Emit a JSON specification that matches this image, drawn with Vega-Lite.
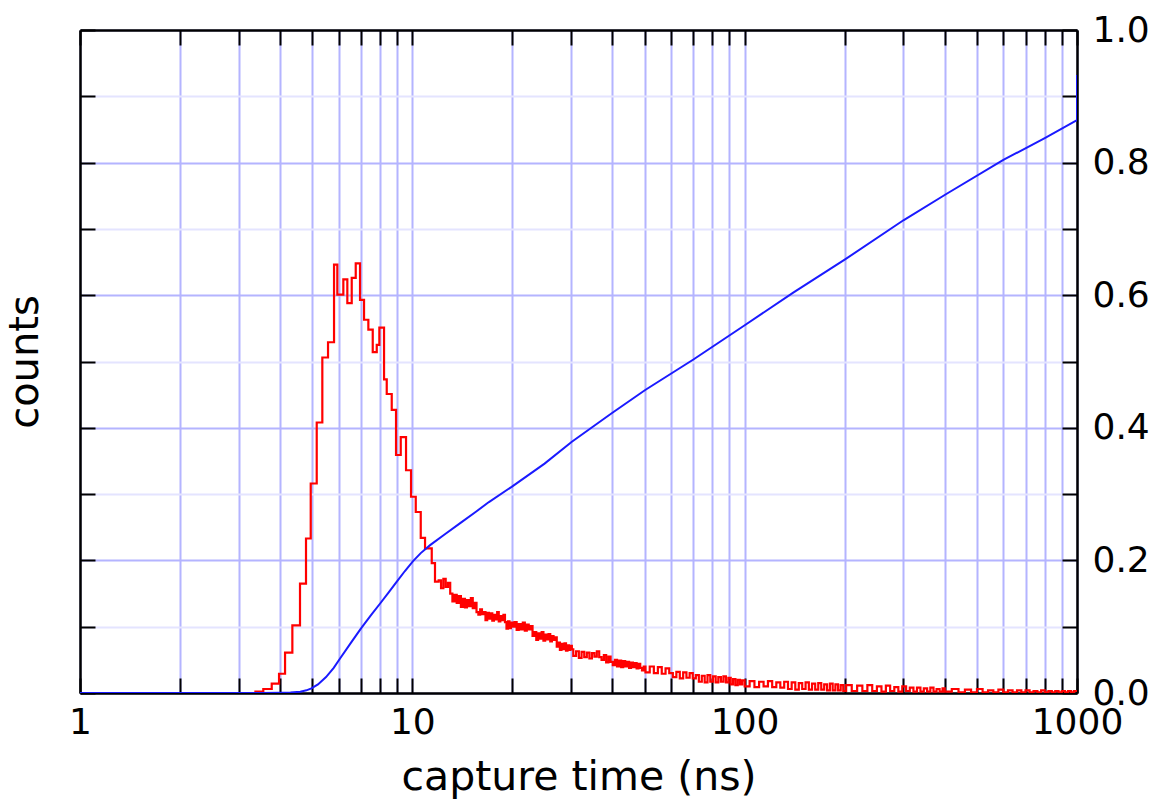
{
  "$schema": "https://vega.github.io/schema/vega-lite/v6.json",
  "width": 997,
  "height": 663,
  "autosize": {"type": "none"},
  "padding": {"left": 80, "top": 30, "right": 86, "bottom": 111},
  "config": {
    "view": {"stroke": null},
    "font": "DejaVu Sans",
    "axis": {"labelColor": "black", "titleColor": "black", "titleFontWeight": "normal", "labelFont": "DejaVu Sans", "titleFont": "DejaVu Sans"}
  },
  "datasets": {
    "red": [
      {"t": 3.346, "v": 0.002}, {"t": 3.561, "v": 0.006}, {"t": 3.775, "v": 0.014}, {"t": 3.971, "v": 0.029},
      {"t": 4.14, "v": 0.061}, {"t": 4.355, "v": 0.102}, {"t": 4.592, "v": 0.165}, {"t": 4.787, "v": 0.233},
      {"t": 4.946, "v": 0.316}, {"t": 5.156, "v": 0.408}, {"t": 5.36, "v": 0.506}, {"t": 5.576, "v": 0.529},
      {"t": 5.813, "v": 0.646}, {"t": 5.947, "v": 0.601}, {"t": 6.2, "v": 0.624}, {"t": 6.374, "v": 0.588},
      {"t": 6.571, "v": 0.626}, {"t": 6.756, "v": 0.648}, {"t": 6.96, "v": 0.593}, {"t": 7.156, "v": 0.563},
      {"t": 7.373, "v": 0.548}, {"t": 7.601, "v": 0.514}, {"t": 7.815, "v": 0.525}, {"t": 7.957, "v": 0.551},
      {"t": 8.22, "v": 0.473}, {"t": 8.375, "v": 0.451}, {"t": 8.67, "v": 0.427}, {"t": 8.932, "v": 0.359},
      {"t": 9.228, "v": 0.386}, {"t": 9.573, "v": 0.336}, {"t": 9.91, "v": 0.296}, {"t": 10.24, "v": 0.273},
      {"t": 10.6, "v": 0.234}, {"t": 10.92, "v": 0.218}, {"t": 11.44, "v": 0.196}, {"t": 11.7, "v": 0.168},
      {"t": 12.0, "v": 0.170}, {"t": 12.2, "v": 0.158}, {"t": 12.4, "v": 0.172}, {"t": 12.6, "v": 0.160},
      {"t": 12.8, "v": 0.166}, {"t": 13.0, "v": 0.150}, {"t": 13.2, "v": 0.138}, {"t": 13.4, "v": 0.148},
      {"t": 13.6, "v": 0.136}, {"t": 13.8, "v": 0.146}, {"t": 14.0, "v": 0.130}, {"t": 14.2, "v": 0.142},
      {"t": 14.4, "v": 0.129}, {"t": 14.6, "v": 0.140}, {"t": 14.8, "v": 0.131}, {"t": 15.0, "v": 0.143},
      {"t": 15.2, "v": 0.128}, {"t": 15.4, "v": 0.136}, {"t": 15.6, "v": 0.122}, {"t": 15.8, "v": 0.118},
      {"t": 16.0, "v": 0.126}, {"t": 16.2, "v": 0.119}, {"t": 16.4, "v": 0.122}, {"t": 16.6, "v": 0.110},
      {"t": 16.8, "v": 0.121}, {"t": 17.0, "v": 0.112}, {"t": 17.2, "v": 0.120}, {"t": 17.4, "v": 0.109},
      {"t": 17.6, "v": 0.118}, {"t": 17.8, "v": 0.111}, {"t": 18.0, "v": 0.122}, {"t": 18.2, "v": 0.108},
      {"t": 18.4, "v": 0.116}, {"t": 18.6, "v": 0.110}, {"t": 18.8, "v": 0.118}, {"t": 19.0, "v": 0.107},
      {"t": 19.2, "v": 0.097}, {"t": 19.4, "v": 0.108}, {"t": 19.6, "v": 0.098}, {"t": 19.8, "v": 0.106},
      {"t": 20.0, "v": 0.100}, {"t": 20.3, "v": 0.107}, {"t": 20.6, "v": 0.095}, {"t": 20.9, "v": 0.104},
      {"t": 21.2, "v": 0.096}, {"t": 21.5, "v": 0.106}, {"t": 21.8, "v": 0.094}, {"t": 22.1, "v": 0.103},
      {"t": 22.4, "v": 0.096}, {"t": 22.7, "v": 0.101}, {"t": 23.0, "v": 0.086}, {"t": 23.3, "v": 0.092},
      {"t": 23.6, "v": 0.080}, {"t": 23.9, "v": 0.090}, {"t": 24.2, "v": 0.082}, {"t": 24.5, "v": 0.092},
      {"t": 24.8, "v": 0.079}, {"t": 25.1, "v": 0.088}, {"t": 25.4, "v": 0.081}, {"t": 25.7, "v": 0.089},
      {"t": 26.0, "v": 0.078}, {"t": 26.3, "v": 0.086}, {"t": 26.6, "v": 0.080}, {"t": 26.9, "v": 0.084},
      {"t": 27.2, "v": 0.070}, {"t": 27.5, "v": 0.076}, {"t": 27.8, "v": 0.065}, {"t": 28.1, "v": 0.074},
      {"t": 28.4, "v": 0.066}, {"t": 28.7, "v": 0.075}, {"t": 29.0, "v": 0.064}, {"t": 29.3, "v": 0.072},
      {"t": 29.6, "v": 0.065}, {"t": 29.9, "v": 0.071}, {"t": 30.2, "v": 0.066},
      {"t": 30.5, "v": 0.056}, {"t": 31.1, "v": 0.063}, {"t": 31.7, "v": 0.053}, {"t": 32.3, "v": 0.062},
      {"t": 32.9, "v": 0.054}, {"t": 33.5, "v": 0.061}, {"t": 34.1, "v": 0.052}, {"t": 34.7, "v": 0.060},
      {"t": 35.3, "v": 0.055}, {"t": 35.9, "v": 0.063}, {"t": 36.5, "v": 0.054}, {"t": 37.1, "v": 0.050},
      {"t": 37.7, "v": 0.057}, {"t": 38.3, "v": 0.046}, {"t": 38.9, "v": 0.055}, {"t": 39.5, "v": 0.047},
      {"t": 40.1, "v": 0.042}, {"t": 40.7, "v": 0.050}, {"t": 41.3, "v": 0.040}, {"t": 41.9, "v": 0.049},
      {"t": 42.5, "v": 0.039}, {"t": 43.1, "v": 0.048}, {"t": 43.7, "v": 0.040}, {"t": 44.3, "v": 0.047},
      {"t": 44.9, "v": 0.038}, {"t": 45.5, "v": 0.046}, {"t": 46.1, "v": 0.039}, {"t": 46.7, "v": 0.045},
      {"t": 47.3, "v": 0.037}, {"t": 47.9, "v": 0.044}, {"t": 48.5, "v": 0.038}, {"t": 49.1, "v": 0.034},
      {"t": 49.7, "v": 0.040},
      {"t": 50.3, "v": 0.031}, {"t": 51.8, "v": 0.040}, {"t": 53.3, "v": 0.030}, {"t": 54.8, "v": 0.039},
      {"t": 56.3, "v": 0.029}, {"t": 57.8, "v": 0.037}, {"t": 59.3, "v": 0.030}, {"t": 60.8, "v": 0.024},
      {"t": 62.3, "v": 0.032}, {"t": 63.8, "v": 0.022}, {"t": 65.3, "v": 0.031}, {"t": 66.8, "v": 0.023},
      {"t": 68.3, "v": 0.030}, {"t": 69.8, "v": 0.022}, {"t": 71.3, "v": 0.027}, {"t": 72.8, "v": 0.017},
      {"t": 74.3, "v": 0.026}, {"t": 75.8, "v": 0.016}, {"t": 77.3, "v": 0.027}, {"t": 78.8, "v": 0.017},
      {"t": 80.3, "v": 0.025}, {"t": 81.8, "v": 0.016}, {"t": 83.3, "v": 0.024}, {"t": 84.8, "v": 0.017},
      {"t": 86.3, "v": 0.025}, {"t": 87.8, "v": 0.016}, {"t": 89.3, "v": 0.023}, {"t": 90.8, "v": 0.013},
      {"t": 92.3, "v": 0.021}, {"t": 93.8, "v": 0.012}, {"t": 95.3, "v": 0.020}, {"t": 96.8, "v": 0.013},
      {"t": 98.3, "v": 0.019},
      {"t": 100, "v": 0.010}, {"t": 103.5, "v": 0.018}, {"t": 107, "v": 0.009}, {"t": 110.5, "v": 0.017},
      {"t": 114, "v": 0.010}, {"t": 117.5, "v": 0.018}, {"t": 121, "v": 0.009}, {"t": 124.5, "v": 0.016},
      {"t": 128, "v": 0.008}, {"t": 131.5, "v": 0.017}, {"t": 135, "v": 0.006}, {"t": 138.5, "v": 0.016},
      {"t": 142, "v": 0.005}, {"t": 145.5, "v": 0.015}, {"t": 149, "v": 0.006}, {"t": 152.5, "v": 0.016},
      {"t": 156, "v": 0.005}, {"t": 159.5, "v": 0.014}, {"t": 163, "v": 0.005}, {"t": 166.5, "v": 0.015},
      {"t": 170, "v": 0.005}, {"t": 173.5, "v": 0.013}, {"t": 177, "v": 0.004}, {"t": 180.5, "v": 0.014},
      {"t": 184, "v": 0.004}, {"t": 187.5, "v": 0.013}, {"t": 191, "v": 0.004}, {"t": 194.5, "v": 0.012},
      {"t": 198, "v": 0.003},
      {"t": 202, "v": 0.012}, {"t": 210, "v": 0.003}, {"t": 218, "v": 0.011}, {"t": 226, "v": 0.003},
      {"t": 234, "v": 0.012}, {"t": 242, "v": 0.003}, {"t": 250, "v": 0.010}, {"t": 258, "v": 0.002},
      {"t": 266, "v": 0.011}, {"t": 274, "v": 0.003}, {"t": 282, "v": 0.009}, {"t": 290, "v": 0.002},
      {"t": 298, "v": 0.010}, {"t": 306, "v": 0.003}, {"t": 314, "v": 0.008}, {"t": 322, "v": 0.002},
      {"t": 330, "v": 0.008}, {"t": 338, "v": 0.002}, {"t": 346, "v": 0.007}, {"t": 354, "v": 0.002},
      {"t": 362, "v": 0.008}, {"t": 370, "v": 0.002}, {"t": 378, "v": 0.006}, {"t": 386, "v": 0.002},
      {"t": 394, "v": 0.007},
      {"t": 400, "v": 0.002}, {"t": 420, "v": 0.006}, {"t": 440, "v": 0.001}, {"t": 460, "v": 0.005},
      {"t": 480, "v": 0.001}, {"t": 500, "v": 0.006}, {"t": 520, "v": 0.001}, {"t": 540, "v": 0.004},
      {"t": 560, "v": 0.001}, {"t": 580, "v": 0.005}, {"t": 600, "v": 0.001}, {"t": 620, "v": 0.004},
      {"t": 640, "v": 0.001}, {"t": 660, "v": 0.004}, {"t": 680, "v": 0.001}, {"t": 700, "v": 0.004},
      {"t": 720, "v": 0.001}, {"t": 740, "v": 0.003}, {"t": 760, "v": 0.001}, {"t": 780, "v": 0.004},
      {"t": 800, "v": 0.001}, {"t": 820, "v": 0.003}, {"t": 840, "v": 0.001}, {"t": 860, "v": 0.003},
      {"t": 880, "v": 0.001}, {"t": 900, "v": 0.003}, {"t": 920, "v": 0.001}, {"t": 940, "v": 0.003},
      {"t": 960, "v": 0.001}, {"t": 980, "v": 0.003}, {"t": 1000, "v": 0.002}
    ],
    "blue": [
      {"t": 1, "v": 0, "o": 1}, {"t": 3.5, "v": 0, "o": 2}, {"t": 4.0, "v": 0.0002, "o": 3},
      {"t": 4.3, "v": 0.0006, "o": 4}, {"t": 4.6, "v": 0.002, "o": 5}, {"t": 4.8, "v": 0.004, "o": 6},
      {"t": 4.97, "v": 0.007, "o": 7}, {"t": 5.2, "v": 0.013, "o": 8}, {"t": 5.5, "v": 0.024, "o": 9},
      {"t": 5.8, "v": 0.038, "o": 10}, {"t": 6.06, "v": 0.052, "o": 11}, {"t": 6.5, "v": 0.074, "o": 12},
      {"t": 7.0, "v": 0.097, "o": 13}, {"t": 7.5, "v": 0.117, "o": 14}, {"t": 8.0, "v": 0.135, "o": 15},
      {"t": 8.5, "v": 0.152, "o": 16}, {"t": 8.98, "v": 0.168, "o": 17}, {"t": 9.5, "v": 0.184, "o": 18},
      {"t": 10.05, "v": 0.199, "o": 19}, {"t": 10.6, "v": 0.211, "o": 20}, {"t": 11.31, "v": 0.223, "o": 21},
      {"t": 12.5, "v": 0.239, "o": 22}, {"t": 14, "v": 0.257, "o": 23}, {"t": 15.5, "v": 0.273, "o": 24},
      {"t": 17, "v": 0.288, "o": 25}, {"t": 19.9, "v": 0.311, "o": 26}, {"t": 25, "v": 0.346, "o": 27},
      {"t": 30.2, "v": 0.379, "o": 28}, {"t": 39.8, "v": 0.422, "o": 29}, {"t": 50.2, "v": 0.457, "o": 30},
      {"t": 70.1, "v": 0.503, "o": 31}, {"t": 100.3, "v": 0.555, "o": 32}, {"t": 140, "v": 0.604, "o": 33},
      {"t": 200.5, "v": 0.654, "o": 34}, {"t": 300.4, "v": 0.713, "o": 35}, {"t": 405.5, "v": 0.753, "o": 36},
      {"t": 600.3, "v": 0.804, "o": 37}, {"t": 800, "v": 0.837, "o": 38}, {"t": 1000, "v": 0.864, "o": 39},
      {"t": 1000, "v": 0.932, "o": 40}
    ]
  },
  "resolve": {"axis": {"x": "independent", "y": "independent"}},
  "layer": [
    {
      "data": {"name": "red"},
      "mark": {"type": "line", "interpolate": "step-after", "color": "#ff0000", "strokeWidth": 2.2, "clip": true},
      "encoding": {
        "x": {
          "field": "t", "type": "quantitative",
          "scale": {"type": "log", "domain": [1, 1000], "nice": false},
          "axis": {
            "orient": "bottom",
            "values": [1, 2, 3, 4, 5, 6, 7, 8, 9, 10, 20, 30, 40, 50, 60, 70, 80, 90, 100, 200, 300, 400, 500, 600, 700, 800, 900, 1000],
            "format": "d",
            "labelExpr": "datum.value == 1 || datum.value == 10 || datum.value == 100 || datum.value == 1000 ? datum.label : ''",
            "labelOverlap": false, "labelFlush": false, "labelFontSize": 36, "labelPadding": 27,
            "tickSize": -15, "tickWidth": 2, "tickColor": "black",
            "domainColor": "black", "domainWidth": 2.5,
            "grid": true, "gridColor": "#b4b4ff", "gridWidth": 2,
            "title": "capture time (ns)", "titleFontSize": 41, "titlePadding": 17
          }
        },
        "y": {
          "field": "v", "type": "quantitative",
          "scale": {"domain": [0, 1], "nice": false},
          "axis": {
            "orient": "left",
            "values": [0, 0.1, 0.2, 0.3, 0.4, 0.5, 0.6, 0.7, 0.8, 0.9, 1.0],
            "labels": false,
            "tickSize": -15, "tickWidth": 2, "tickColor": "black",
            "domainColor": "black", "domainWidth": 2.5,
            "grid": true,
            "gridColor": {"condition": {"test": "round(datum.value * 10) % 2 == 0", "value": "#b4b4ff"}, "value": "#e4e4ff"},
            "gridWidth": 2,
            "title": "counts", "titleFontSize": 40, "titlePadding": 34
          }
        }
      }
    },
    {
      "data": {"name": "blue"},
      "mark": {"type": "line", "color": "#1a1aff", "strokeWidth": 2, "clip": true},
      "encoding": {
        "x": {
          "field": "t", "type": "quantitative",
          "scale": {"type": "log", "domain": [1, 1000], "nice": false},
          "axis": {
            "orient": "top",
            "values": [1, 2, 3, 4, 5, 6, 7, 8, 9, 10, 20, 30, 40, 50, 60, 70, 80, 90, 100, 200, 300, 400, 500, 600, 700, 800, 900, 1000],
            "labels": false,
            "tickSize": -15, "tickWidth": 2, "tickColor": "black",
            "domainColor": "black", "domainWidth": 2.5,
            "grid": false, "title": null
          }
        },
        "y": {
          "field": "v", "type": "quantitative",
          "scale": {"domain": [0, 1], "nice": false},
          "axis": {
            "orient": "right",
            "values": [0, 0.1, 0.2, 0.3, 0.4, 0.5, 0.6, 0.7, 0.8, 0.9, 1.0],
            "labelExpr": "round(datum.value * 10) % 2 == 0 ? format(datum.value, '.1f') : ''",
            "labelOverlap": false, "labelFlush": false, "labelFontSize": 36, "labelPadding": 30,
            "tickSize": -15, "tickWidth": 2, "tickColor": "black",
            "domainColor": "black", "domainWidth": 2.5,
            "grid": false, "title": null
          }
        },
        "order": {"field": "o", "type": "quantitative"}
      }
    }
  ]
}
